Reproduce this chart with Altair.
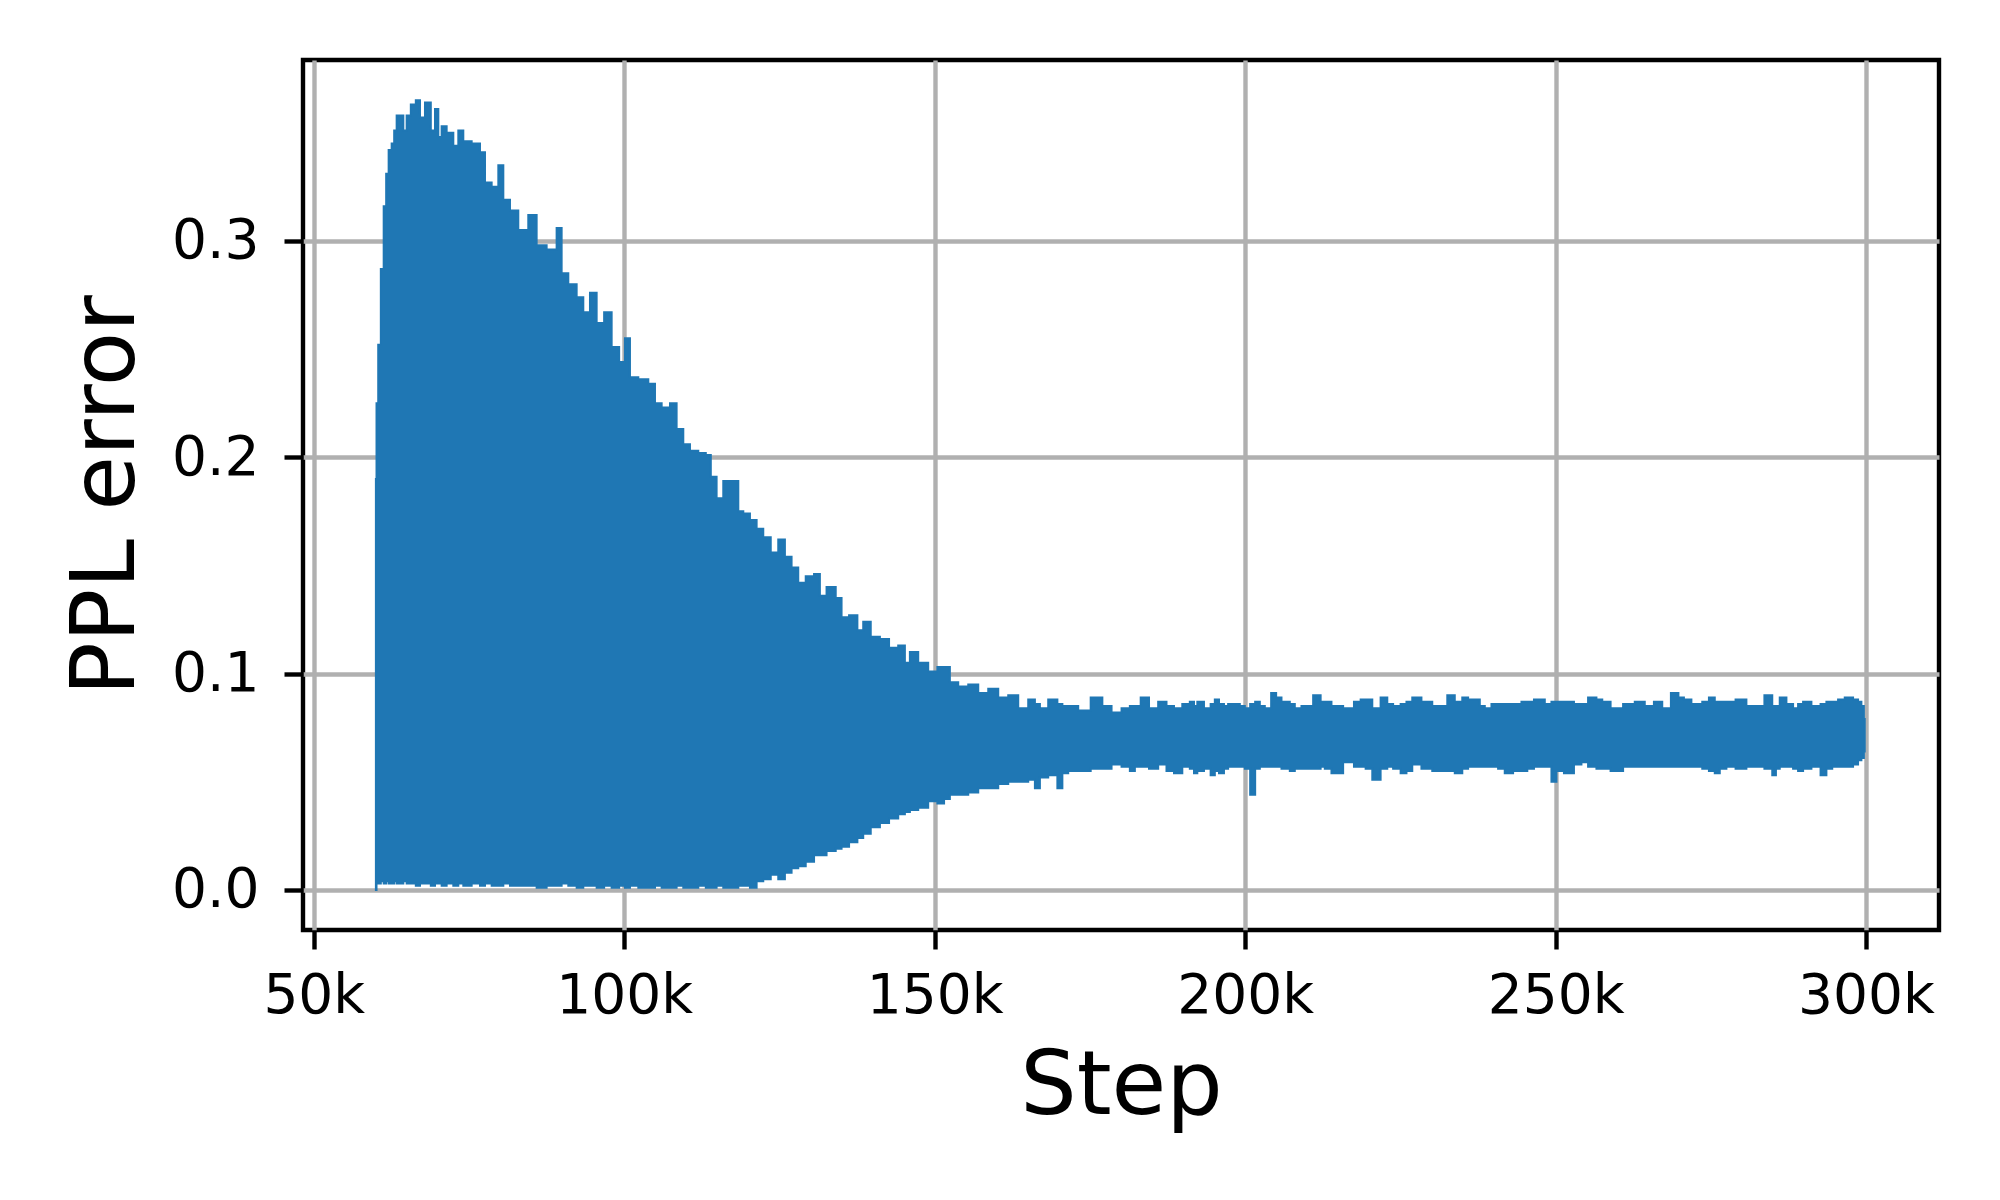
"Script to recreate the PPL error by step chart"

import pandas as pd
import altair as alt

STEPS = [
    60000, 60200, 60550, 61040, 61470, 61840, 62270, 62810, 63080, 63610,
    64150, 64690, 65220, 66030, 66830, 67370, 68440, 69250, 69790, 70320,
    70860, 71930, 73010, 73540, 74620, 76230, 77300, 77840, 79450, 79990,
    81060, 82130, 83740, 85350, 86430, 88570, 89650, 90180, 91800, 92870,
    93940, 95020, 96090, 97430, 98510, 99850, 100380, 101460, 103070, 104680,
    105220, 106830, 107900, 108970, 110050, 111120, 112730, 113540, 114340, 115410,
    116490, 118100, 118640, 119710, 120780, 121860, 122920, 124270, 125340, 126410,
    127490, 128560, 129900, 131240, 131780, 133390, 134730, 135270, 137150, 137950,
    139030, 140370, 141980, 143320, 144930, 145470, 146540, 148150, 149760, 151110,
    151910, 152980, 154600, 156210, 157820, 159430, 161040, 162650, 164260, 165870,
    166410, 167480, 169090, 170430, 170700, 172310, 173920, 176330, 177680, 179290,
    180900, 181970, 182510, 183850, 185190, 186800, 187870, 189210, 190550, 191630,
    191900, 192700, 194040, 194850, 195390, 196190, 196990, 197530, 198610, 199680,
    200220, 201400, 201830, 202900, 203440, 204940, 205050, 206660, 207730, 208270,
    209880, 210150, 211760, 212560, 213100, 214710, 216860, 218200, 219010, 219810,
    221150, 222490, 223300, 224370, 225720, 226250, 227590, 229200, 229470, 230810,
    231890, 233230, 234300, 235650, 236180, 237260, 238330, 238870, 240480, 241010,
    242620, 243700, 245310, 245580, 247460, 249070, 249600, 250680, 252020, 253900,
    254430, 256040, 257120, 257920, 259800, 261950, 263560, 265170, 266510, 267850,
    269300, 270270, 271070, 272680, 273220, 274030, 275370, 275910, 276980, 278050,
    279930, 280200, 281270, 282350, 282880, 284390, 285410, 285570, 286640, 287720,
    288790, 289330, 290400, 292010, 293350, 293890, 295230, 295770, 297380, 298450,
    298990, 299520, 299790,
]

# upper edge of the oscillating error
ERR_HIGH = [
    0.190, 0.225, 0.252, 0.287, 0.316, 0.331, 0.342, 0.345, 0.351, 0.358,
    0.358, 0.351, 0.358, 0.363, 0.365, 0.357, 0.364, 0.351, 0.361, 0.348,
    0.353, 0.350, 0.344, 0.351, 0.346, 0.345, 0.341, 0.327, 0.325, 0.335,
    0.319, 0.314, 0.305, 0.312, 0.298, 0.296, 0.306, 0.285, 0.280, 0.274,
    0.267, 0.276, 0.262, 0.267, 0.251, 0.244, 0.255, 0.237, 0.236, 0.234,
    0.225, 0.223, 0.225, 0.213, 0.206, 0.203, 0.202, 0.201, 0.191, 0.181,
    0.189, 0.189, 0.175, 0.174, 0.171, 0.167, 0.163, 0.156, 0.162, 0.154,
    0.149, 0.142, 0.145, 0.146, 0.136, 0.140, 0.135, 0.126, 0.127, 0.120,
    0.124, 0.117, 0.116, 0.112, 0.113, 0.105, 0.110, 0.105, 0.101, 0.103,
    0.103, 0.096, 0.094, 0.095, 0.091, 0.093, 0.089, 0.090, 0.084, 0.088,
    0.086, 0.084, 0.088, 0.086, 0.085, 0.085, 0.083, 0.089, 0.085, 0.082,
    0.084, 0.085, 0.085, 0.089, 0.084, 0.087, 0.085, 0.084, 0.086, 0.087,
    0.085, 0.087, 0.084, 0.086, 0.088, 0.086, 0.085, 0.086, 0.086, 0.085,
    0.084, 0.086, 0.087, 0.085, 0.084, 0.091, 0.089, 0.087, 0.086, 0.084,
    0.085, 0.085, 0.090, 0.087, 0.087, 0.085, 0.084, 0.087, 0.088, 0.088,
    0.084, 0.089, 0.086, 0.085, 0.086, 0.087, 0.089, 0.087, 0.087, 0.085,
    0.085, 0.090, 0.087, 0.089, 0.088, 0.088, 0.085, 0.084, 0.086, 0.086,
    0.086, 0.086, 0.087, 0.087, 0.088, 0.086, 0.087, 0.087, 0.087, 0.086,
    0.086, 0.089, 0.088, 0.087, 0.084, 0.086, 0.087, 0.085, 0.087, 0.084,
    0.091, 0.089, 0.088, 0.086, 0.086, 0.087, 0.089, 0.087, 0.087, 0.087,
    0.088, 0.088, 0.085, 0.085, 0.085, 0.090, 0.085, 0.085, 0.089, 0.086,
    0.084, 0.086, 0.087, 0.085, 0.086, 0.087, 0.087, 0.088, 0.089, 0.088,
    0.087, 0.085, 0.079,
]

# lower edge of the oscillating error
ERR_LOW = [
    0.000, 0.004, 0.003, 0.004, 0.003, 0.004, 0.003, 0.003, 0.004, 0.003,
    0.003, 0.004, 0.003, 0.003, 0.002, 0.003, 0.003, 0.002, 0.003, 0.003,
    0.002, 0.003, 0.002, 0.003, 0.002, 0.003, 0.002, 0.003, 0.002, 0.002,
    0.003, 0.002, 0.002, 0.002, 0.001, 0.002, 0.002, 0.003, 0.002, 0.001,
    0.002, 0.002, 0.001, 0.002, 0.001, 0.002, 0.001, 0.002, 0.001, 0.001,
    0.002, 0.001, 0.001, 0.002, 0.001, 0.001, 0.002, 0.001, 0.001, 0.002,
    0.001, 0.001, 0.002, 0.002, 0.001, 0.004, 0.005, 0.007, 0.005, 0.008,
    0.010, 0.011, 0.013, 0.016, 0.016, 0.018, 0.019, 0.020, 0.022, 0.024,
    0.026, 0.029, 0.031, 0.033, 0.035, 0.036, 0.037, 0.038, 0.041, 0.040,
    0.042, 0.044, 0.044, 0.045, 0.047, 0.047, 0.049, 0.050, 0.050, 0.051,
    0.047, 0.052, 0.053, 0.047, 0.054, 0.055, 0.055, 0.056, 0.056, 0.058,
    0.057, 0.055, 0.057, 0.057, 0.056, 0.058, 0.055, 0.054, 0.057, 0.056,
    0.054, 0.055, 0.056, 0.053, 0.055, 0.054, 0.056, 0.057, 0.057, 0.057,
    0.056, 0.044, 0.056, 0.057, 0.057, 0.057, 0.057, 0.056, 0.055, 0.056,
    0.056, 0.056, 0.056, 0.057, 0.056, 0.054, 0.059, 0.057, 0.057, 0.056,
    0.051, 0.056, 0.057, 0.056, 0.054, 0.055, 0.058, 0.056, 0.056, 0.055,
    0.055, 0.055, 0.054, 0.056, 0.057, 0.057, 0.057, 0.057, 0.057, 0.056,
    0.054, 0.055, 0.055, 0.056, 0.057, 0.057, 0.050, 0.055, 0.054, 0.058,
    0.059, 0.057, 0.056, 0.056, 0.055, 0.057, 0.057, 0.057, 0.057, 0.057,
    0.057, 0.057, 0.057, 0.057, 0.057, 0.056, 0.055, 0.054, 0.056, 0.057,
    0.056, 0.056, 0.057, 0.057, 0.057, 0.056, 0.053, 0.056, 0.057, 0.057,
    0.056, 0.055, 0.056, 0.057, 0.053, 0.056, 0.057, 0.057, 0.057, 0.058,
    0.060, 0.061, 0.064,
]

X_TICKS = [50000, 100000, 150000, 200000, 250000, 300000]
Y_TICKS = [0.0, 0.1, 0.2, 0.3]

FONT = "DejaVu Sans"
LINE = 4.4


def get_ppl_error_chart(errors: pd.DataFrame) -> alt.Chart:
    "Creates the band chart of PPL error against training step"
    x_axis = alt.Axis(
        values=X_TICKS, labelExpr="datum.value / 1000 + 'k'",
        title="Step", titleX=818, titleY=183, titleAlign="center",
        titleBaseline="alphabetic", labelBaseline="alphabetic",
        labelPadding=63, labelFlush=False, labelOverlap=False)
    y_axis = alt.Axis(
        values=Y_TICKS, format=".1f",
        title="PPL error", titleX=-170, titleY=435, titleAngle=270,
        titleAlign="center", titleBaseline="alphabetic",
        labelBaseline="middle", labelPadding=25, labelFlush=False)

    band = alt.Chart(errors).mark_area(
        color="#1f77b4", interpolate="step", stroke="#1f77b4",
        strokeWidth=2).encode(
        x=alt.X("step:Q", axis=x_axis,
                scale=alt.Scale(domain=[48260, 311755], nice=False, zero=False)),
        y=alt.Y("high:Q", axis=y_axis,
                scale=alt.Scale(domain=[-0.0185, 0.3836], nice=False, zero=False)),
        y2="low:Q")

    return band.properties(
        width=1636, height=870,
        autosize=alt.AutoSizeParams(type="none"),
        padding={"left": 295, "top": 52, "right": 53, "bottom": 262},
        background="white",
    ).configure_view(
        stroke="black", strokeWidth=LINE
    ).configure_axis(
        domain=False, grid=True, gridColor="#b0b0b0", gridWidth=LINE,
        tickColor="black", tickWidth=LINE, tickSize=19,
        labelFont=FONT, labelFontSize=55, labelColor="black",
        titleFont=FONT, titleFontSize=89, titleFontWeight="normal",
        titleColor="black")


assert len(STEPS) == len(ERR_HIGH) == len(ERR_LOW)
errors = pd.DataFrame({"step": STEPS, "high": ERR_HIGH, "low": ERR_LOW})

chart = get_ppl_error_chart(errors)
chart.save("out.html", embed_options={"renderer": "svg", "actions": False})
